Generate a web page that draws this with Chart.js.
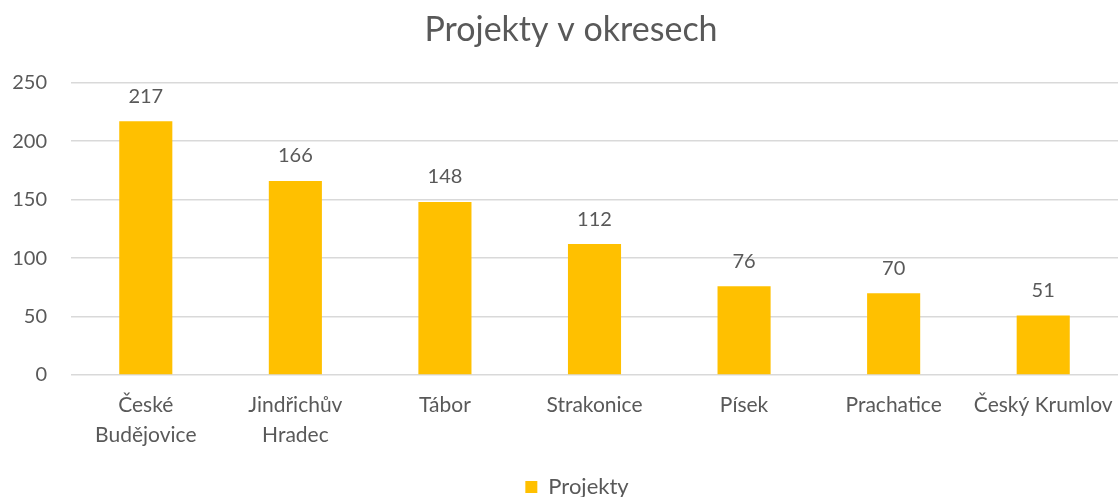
<!DOCTYPE html>
<html>
<head>
<meta charset="utf-8">
<script src="https://cdn.jsdelivr.net/npm/chart.js@4/dist/chart.umd.min.js"></script>
<style>
html,body{margin:0;padding:0;background:#fff;}
#wrap{width:1118px;height:497px;position:relative;}
</style>
</head>
<body>
<div id="wrap"><canvas id="c" width="1118" height="497"></canvas></div>
<script>
const categories = [["České","Budějovice"],["Jindřichův","Hradec"],"Tábor","Strakonice","Písek","Prachatice","Český Krumlov"];
const projekty = [217,166,148,112,76,70,51];
const yTicks = [0,50,100,150,200,250];

const FONT = "Lato, 'Open Sans', sans-serif";
const TEXT = '#595959';

const valueLabels = {
  id: 'valueLabels',
  afterDatasetsDraw(chart) {
    const ctx = chart.ctx;
    ctx.save();
    ctx.font = '20px ' + FONT;
    ctx.fillStyle = TEXT;
    ctx.textAlign = 'center';
    ctx.textBaseline = 'middle';
    chart.getDatasetMeta(0).data.forEach((bar, i) => {
      ctx.fillText(String(chart.data.datasets[0].data[i]), bar.x, bar.y - 25);
    });
    ctx.restore();
  }
};

const shiftBoxes = {
  id: 'shiftBoxes',
  afterLayout(chart) {
    if (chart.titleBlock) { chart.titleBlock.left += 6; chart.titleBlock.right += 6; }
    if (chart.legend) {
      chart.legend.left += 12; chart.legend.right += 12;
      chart.legend.top += 11; chart.legend.bottom += 11;
    }
  }
};

new Chart(document.getElementById('c'), {
  type: 'bar',
  data: {
    labels: categories,
    datasets: [{
      label: 'Projekty',
      data: projekty,
      backgroundColor: '#FFC000',
      borderWidth: 0,
      barPercentage: 0.355,
      categoryPercentage: 1.0
    }]
  },
  options: {
    responsive: false,
    animation: false,
    layout: { padding: { left: 12, right: 0, top: 0, bottom: 0 } },
    plugins: {
      title: {
        display: true,
        text: 'Projekty v okresech',
        color: TEXT,
        font: { family: FONT, size: 34, weight: 'normal' },
        padding: { top: 10, bottom: 32 }
      },
      legend: {
        position: 'bottom',
        labels: {
          color: TEXT,
          font: { family: FONT, size: 22 },
          boxWidth: 12, boxHeight: 12,
          padding: 0
        }
      },
      tooltip: { enabled: false }
    },
    scales: {
      x: {
        grid: { display: false },
        border: { display: false },
        afterFit(axis) { axis.paddingLeft = 0; axis.paddingRight = 0; axis.height = 90; },
        ticks: {
          color: TEXT,
          font: { family: FONT, size: 21, lineHeight: 1.45 },
          maxRotation: 0, autoSkip: false, padding: 7
        }
      },
      y: {
        min: 0, max: 250,
        afterBuildTicks(axis) { axis.ticks = yTicks.map(v => ({ value: v })); },
        afterFit(axis) { axis.width = 59; },
        grid: { color: '#D9D9D9', lineWidth: 1.5, drawTicks: false },
        border: { display: false },
        ticks: {
          color: TEXT,
          font: { family: FONT, size: 20 },
          padding: 24
        }
      }
    }
  },
  plugins: [valueLabels, shiftBoxes]
});
</script>
</body>
</html>
